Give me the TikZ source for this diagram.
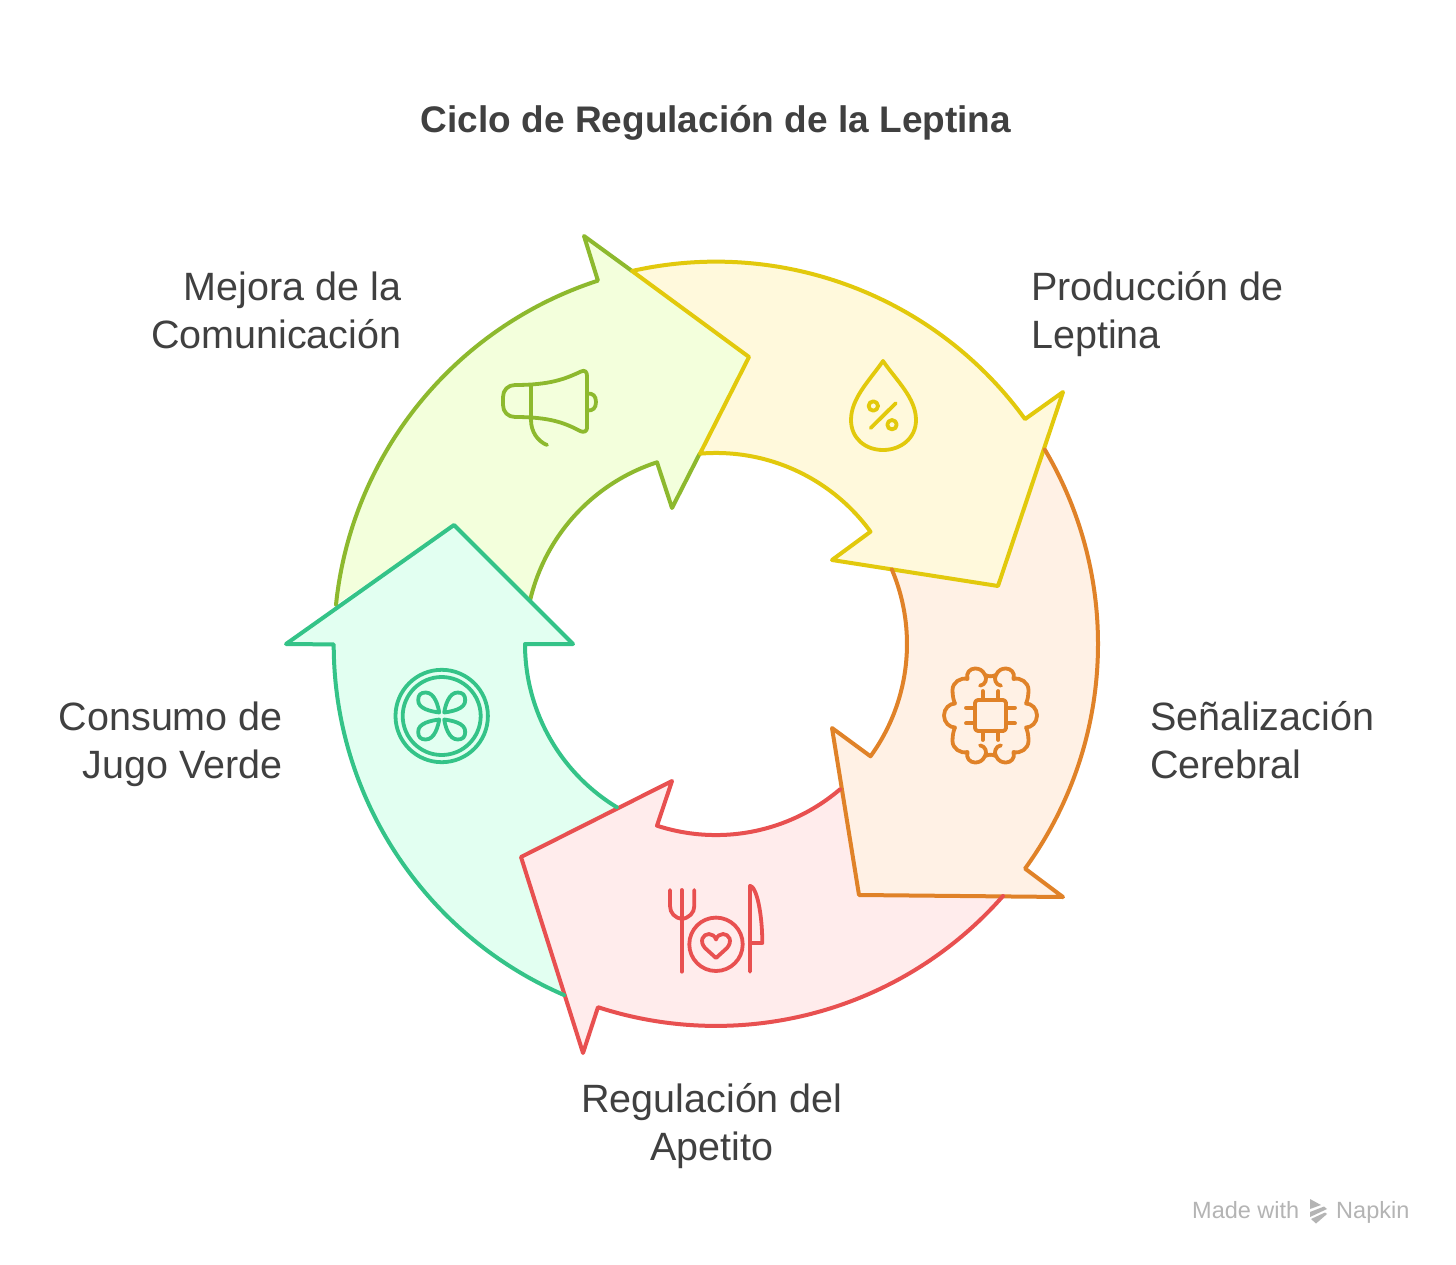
\documentclass[tikz,border=0pt]{standalone}
\usepackage{fontspec}
\setmainfont{Liberation Sans}
\definecolor{limeS}{HTML}{8DB92E}\definecolor{limeF}{HTML}{F3FFDC}
\definecolor{yelS}{HTML}{E2C90C}\definecolor{yelF}{HTML}{FFF9DC}
\definecolor{oraS}{HTML}{E08228}\definecolor{oraF}{HTML}{FFF1E5}
\definecolor{redS}{HTML}{E85050}\definecolor{redF}{HTML}{FFECEC}
\definecolor{teaS}{HTML}{34C388}\definecolor{teaF}{HTML}{E2FFF1}
\definecolor{ink}{HTML}{404040}\definecolor{wmgray}{HTML}{B4B4B4}
\tikzset{
  edge/.style={line width=4pt,line join=round,line cap=round},
  icon/.style={line width=3.8pt,line join=round,line cap=round},
  lab/.style={inner sep=0pt,text=ink,text depth=10pt,font=\fontsize{39.5}{48}\selectfont},
  ttl/.style={inner sep=0pt,text=ink,font=\fontsize{37}{42}\selectfont\bfseries},
  wm/.style={inner sep=0pt,text=wmgray,font=\fontsize{23.5}{26}\selectfont}
}
\begin{document}
\begin{tikzpicture}[x=1pt,y=-1pt]
\useasboundingbox[fill=white] (0,0) rectangle (1456,1265);
% fills: each band follows the head of the previous arrow
\fill[limeF] (336,604.7) arc[start angle=185.9,end angle=252,radius=382] -- (584,236) -- (749,357) -- (672,508) -- (657,462.3) arc[start angle=252,end angle=193.3,radius=191] -- (454,525) -- cycle;
\fill[yelF] (632,271) arc[start angle=257.3,end angle=324,radius=382] -- (1063,392) -- (998,586) -- (832,560) -- (870.5,531.7) arc[start angle=324,end angle=265.2,radius=191] -- (749,357) -- cycle;
\fill[oraF] (1044.8,449.6) arc[start angle=-30.6,end angle=36,radius=382] -- (1063,897) -- (859,895) -- (832,728) -- (870.5,756.3) arc[start angle=36,end angle=-23,radius=191] -- (998,586) -- cycle;
\fill[redF] (1003,896) arc[start angle=41.3,end angle=108,radius=382] -- (583,1053) -- (521,857) -- (672,781) -- (657,825.7) arc[start angle=108,end angle=49.5,radius=191] -- (859,895) -- cycle;
\fill[teaF] (564,995) arc[start angle=113.4,end angle=180,radius=382] -- (286,644) -- (454,525) -- (573,644) -- (525,644) arc[start angle=180,end angle=121.3,radius=191] -- (521,857) -- cycle;
% strokes
\draw[edge,limeS] (336,604.7) arc[start angle=185.9,end angle=252,radius=382] -- (584,236) -- (632,271);
\draw[edge,limeS] (699.5,454) -- (672,508) -- (657,462.3) arc[start angle=252,end angle=193.3,radius=191];
\draw[edge,yelS] (632,271) arc[start angle=257.3,end angle=324,radius=382] -- (1063,392) -- (998,586) -- (832,560) -- (870.5,531.7) arc[start angle=324,end angle=265.2,radius=191] -- (749,357) -- cycle;
\draw[edge,oraS] (1044.8,449.6) arc[start angle=-30.6,end angle=36,radius=382] -- (1063,897) -- (859,895) -- (832,728) -- (870.5,756.3) arc[start angle=36,end angle=-23,radius=191];
\draw[edge,redS] (1003,896) arc[start angle=41.3,end angle=108,radius=382] -- (583,1053) -- (521,857) -- (672,781) -- (657,825.7) arc[start angle=108,end angle=49.5,radius=191];
\draw[edge,teaS] (564,995) arc[start angle=113.4,end angle=180,radius=382] -- (286,644) -- (454,525) -- (573,644) -- (525,644) arc[start angle=180,end angle=121.3,radius=191];
% megaphone
\draw[icon,limeS] (581,371.5) .. controls (565,379) and (550,385) .. (515,385) .. controls (508,385) and (503,390) .. (503,397) -- (503,405) .. controls (503,412) and (508,417) .. (515,417) .. controls (550,417) and (565,423) .. (580,431) .. controls (584,433) and (587,431) .. (587,428) -- (587,376) .. controls (587,372) and (585,369.5) .. (581,371.5);
\draw[icon,limeS] (587,393.5) .. controls (593,393) and (596,396) .. (596,402) .. controls (596,408) and (593,411) .. (587,410.5);
\draw[icon,limeS] (531,385) -- (531,420) .. controls (531,431) and (537,441) .. (547,445);
% drop
\draw[icon,yelS] (883,361) .. controls (870,380) and (851,398) .. (851,420) .. controls (851,438) and (865,450) .. (883,450) .. controls (901,450) and (916,438) .. (916,420) .. controls (916,398) and (896,380) .. (883,361) -- cycle;
\draw[icon,yelS] (873.3,406) circle[radius=4.7];
\draw[icon,yelS] (892,424.7) circle[radius=4.7];
\draw[icon,yelS] (895.7,403.3) -- (870.7,428);
% brain and chip
\begin{scope}[shift={(990.5,715.5)}]
\draw[icon,oraS,rounded corners=3pt] (-15.5,-15.5) rectangle (15.5,15.5);
\foreach \d in {-7.8,7.8}{
  \draw[icon,oraS] (\d,-15.5) -- (\d,-24.5);
  \draw[icon,oraS] (\d,15.5) -- (\d,24.5);
  \draw[icon,oraS] (-15.5,\d) -- (-24.5,\d);
  \draw[icon,oraS] (15.5,\d) -- (24.5,\d);
}
\foreach \sx/\sy in {1/1,1/-1,-1/1,-1/-1}{
  \begin{scope}[xscale=\sx,yscale=\sy]
  \draw[icon,oraS] (-10.5,-29.8) .. controls (-5,-30.5) and (-3,-37) .. (-5.5,-40.5) .. controls (-8,-46) and (-12,-47) .. (-15.5,-47) .. controls (-20,-47) and (-25,-43) .. (-23,-36.5) .. controls (-30,-38.5) and (-38,-33) .. (-38,-25.5) .. controls (-38,-20) and (-37,-15) .. (-35.5,-12) .. controls (-41,-12) and (-46.5,-7) .. (-46.5,0);
  \draw[icon,oraS] (-5.5,-40.5) .. controls (-3,-39.5) and (-1.5,-39.2) .. (0,-39.2);
  \end{scope}
}
\end{scope}
% fork, plate, knife
\draw[icon,redS] (681.7,890) -- (681.7,971.7);
\draw[icon,redS] (670,890) -- (670,906) .. controls (670,913) and (675,918) .. (681.7,919) .. controls (689,918) and (694.3,913) .. (694.3,906) -- (694.3,890);
\draw[icon,redS] (716,944.3) circle[radius=26.7];
\draw[icon,redS] (716,958) -- (705,948) .. controls (699,941) and (703,934) .. (709,934) .. controls (712,934) and (715,936) .. (716,939.5) .. controls (717,936) and (720,934) .. (723,934) .. controls (729,934) and (733,941) .. (727,948) -- cycle;
\draw[icon,redS] (750,971.7) -- (750,885.7) .. controls (757,887) and (762.3,915) .. (762.3,943) -- (750,943);
% cucumber
\begin{scope}[shift={(441.7,716)}]
\draw[icon,teaS] (0,0) circle[radius=46.2];
\draw[icon,teaS] (0,0) circle[radius=39];
\foreach \sx/\sy in {1/1,1/-1,-1/1,-1/-1}{
  \draw[icon,teaS,xscale=\sx,yscale=\sy] (-2.5,-3.5) .. controls (-10,-4.5) and (-24,-7) .. (-23.5,-16) .. controls (-23.5,-21) and (-21,-23.5) .. (-16,-23.5) .. controls (-7,-23.5) and (-3.5,-10) .. (-2.5,-3.5) -- cycle;
}
\end{scope}
% texts
\node[ttl,anchor=base] (title) at (716,133) {Ciclo de Regulación de la Leptina};
\node[lab,anchor=south east,align=right] (mejora) at (401.5,359) {Mejora de la\\Comunicación};
\node[lab,anchor=south west,align=left] (produccion) at (1031,359) {Producción de\\Leptina};
\node[lab,anchor=south west,align=left] (senal) at (1150,789) {Señalización\\Cerebral};
\node[lab,anchor=south,align=center] (regul) at (712,1171) {Regulación del\\Apetito};
\node[lab,anchor=south east,align=right] (consumo) at (283,789) {Consumo de\\Jugo Verde};
% watermark
\node[wm,anchor=base west] (made) at (1192,1218) {Made with};
\node[wm,anchor=base west] (napkin) at (1336,1218) {Napkin};
\fill[wmgray] (1310,1199) -- (1321,1205) -- (1310,1209) -- cycle;
\fill[wmgray] (1310,1212) -- (1324,1206.5) -- (1327,1209) -- (1310,1217) -- cycle;
\fill[wmgray] (1311,1219) -- (1325,1212.5) -- (1327,1214) -- (1316,1223.5) -- cycle;
\end{tikzpicture}
\end{document}
